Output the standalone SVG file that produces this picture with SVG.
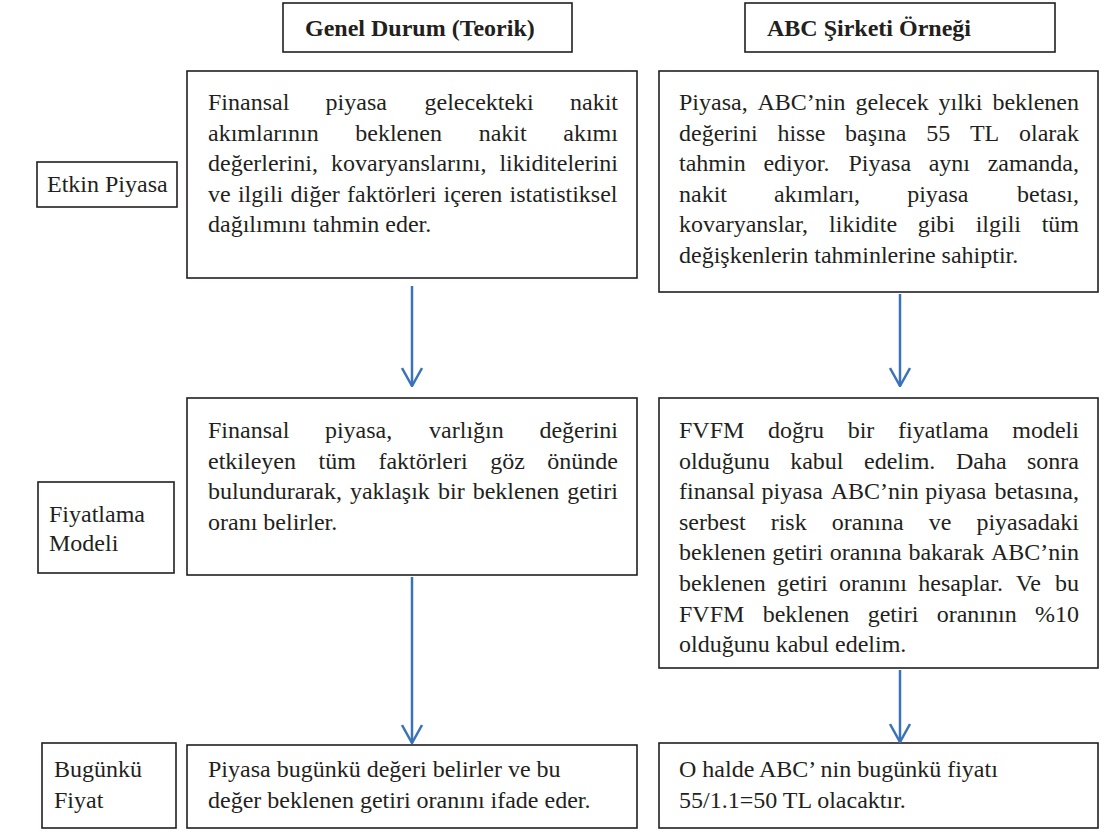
<svg xmlns="http://www.w3.org/2000/svg" width="1111" height="835" viewBox="0 0 1111 835">
  <style>
    .box { fill: #ffffff; stroke: #231f20; stroke-width: 1.6; }
    .t { font-family: "Liberation Serif", "Times New Roman", serif; font-size: 24px; fill: #231f20; }
    .h { font-weight: bold; }
    .arrow { fill: none; stroke: #3a73b8; stroke-width: 2.5; marker-end: url(#vhead); }
  </style>
  <defs>
    <marker id="vhead" viewBox="0 0 20 22" refX="19" refY="11" markerWidth="20" markerHeight="22" markerUnits="userSpaceOnUse" orient="auto">
      <path d="M1,1 L19,11 L1,21" fill="none" stroke="#3a73b8" stroke-width="2.5"/>
    </marker>
  </defs>

  <!-- column headers -->
  <g id="header-genel">
    <rect class="box" x="283" y="3" width="289" height="49"/>
    <text class="t h" x="305" y="36">Genel Durum (Teorik)</text>
  </g>
  <g id="header-abc">
    <rect class="box" x="745" y="3" width="310" height="49"/>
    <text class="t h" x="767" y="36">ABC Şirketi Örneği</text>
  </g>

  <!-- row labels -->
  <g id="label-etkin">
    <rect class="box" x="37" y="162" width="140" height="45"/>
    <text class="t" x="47" y="192">Etkin Piyasa</text>
  </g>
  <g id="label-fiyatlama">
    <rect class="box" x="38" y="482" width="136" height="91"/>
    <text class="t" x="49" y="522">Fiyatlama</text>
    <text class="t" x="49" y="551">Modeli</text>
  </g>
  <g id="label-bugunku">
    <rect class="box" x="42" y="743" width="134" height="85"/>
    <text class="t" x="54" y="777">Bugünkü</text>
    <text class="t" x="54" y="808">Fiyat</text>
  </g>

  <!-- row 1 -->
  <g id="genel-piyasa">
    <rect class="box" x="187" y="71" width="450" height="207"/>
    <text class="t" y="110"><tspan x="208">Finansal</tspan><tspan x="325.6">piyasa</tspan><tspan x="424.5">gelecekteki</tspan><tspan x="570">nakit</tspan></text>
    <text class="t" y="140.6"><tspan x="208">akımlarının</tspan><tspan x="355.3">beklenen</tspan><tspan x="478.7">nakit</tspan><tspan x="563.3">akımı</tspan></text>
    <text class="t" y="171.2"><tspan x="208">değerlerini,</tspan><tspan x="331.1">kovaryanslarını,</tspan><tspan x="499.4">likiditelerini</tspan></text>
    <text class="t" y="201.8"><tspan x="208">ve</tspan><tspan x="237.9">ilgili</tspan><tspan x="290.5">diğer</tspan><tspan x="347.1">faktörleri</tspan><tspan x="443.6">içeren</tspan><tspan x="509.5">istatistiksel</tspan></text>
    <text class="t" x="208" y="232.4">dağılımını tahmin eder.</text>
  </g>
  <g id="abc-piyasa">
    <rect class="box" x="659" y="71" width="439" height="221"/>
    <text class="t" y="110"><tspan x="679">Piyasa,</tspan><tspan x="757.5">ABC’nin</tspan><tspan x="855.4">gelecek</tspan><tspan x="938.5">yılki</tspan><tspan x="992.4">beklenen</tspan></text>
    <text class="t" y="140.6"><tspan x="679">değerini</tspan><tspan x="777.4">hisse</tspan><tspan x="845.1">başına</tspan><tspan x="926.2">55</tspan><tspan x="969.9">TL</tspan><tspan x="1019">olarak</tspan></text>
    <text class="t" y="171.2"><tspan x="679">tahmin</tspan><tspan x="763.4">ediyor.</tspan><tspan x="848.4">Piyasa</tspan><tspan x="928.7">aynı</tspan><tspan x="987.7">zamanda,</tspan></text>
    <text class="t" y="201.8"><tspan x="679">nakit</tspan><tspan x="774.1">akımları,</tspan><tspan x="907.2">piyasa</tspan><tspan x="1017">betası,</tspan></text>
    <text class="t" y="232.4"><tspan x="679">kovaryanslar,</tspan><tspan x="829.1">likidite</tspan><tspan x="917.7">gibi</tspan><tspan x="975.7">ilgili</tspan><tspan x="1041.7">tüm</tspan></text>
    <text class="t" x="679" y="263">değişkenlerin tahminlerine sahiptir.</text>
  </g>

  <!-- row 2 -->
  <g id="genel-model">
    <rect class="box" x="187" y="398" width="450" height="177"/>
    <text class="t" y="438"><tspan x="208">Finansal</tspan><tspan x="324.9">piyasa,</tspan><tspan x="429.1">varlığın</tspan><tspan x="539.4">değerini</tspan></text>
    <text class="t" y="468.6"><tspan x="208">etkileyen</tspan><tspan x="318.5">tüm</tspan><tspan x="378.4">faktörleri</tspan><tspan x="490.2">göz</tspan><tspan x="547.3">önünde</tspan></text>
    <text class="t" y="499.2"><tspan x="208">bulundurarak,</tspan><tspan x="349.9">yaklaşık</tspan><tspan x="438">bir</tspan><tspan x="472.7">beklenen</tspan><tspan x="567.3">getiri</tspan></text>
    <text class="t" x="208" y="529.8">oranı belirler.</text>
  </g>
  <g id="abc-model">
    <rect class="box" x="659" y="398" width="439" height="270"/>
    <text class="t" y="438"><tspan x="679">FVFM</tspan><tspan x="768">doğru</tspan><tspan x="847.7">bir</tspan><tspan x="898">fiyatlama</tspan><tspan x="1012.3">modeli</tspan></text>
    <text class="t" y="468.6"><tspan x="679">olduğunu</tspan><tspan x="790.2">kabul</tspan><tspan x="864">edelim.</tspan><tspan x="955.9">Daha</tspan><tspan x="1027">sonra</tspan></text>
    <text class="t" y="499.2"><tspan x="679">finansal</tspan><tspan x="761.5">piyasa</tspan><tspan x="830.7">ABC’nin</tspan><tspan x="925.2">piyasa</tspan><tspan x="994.4">betasına,</tspan></text>
    <text class="t" y="529.8"><tspan x="679">serbest</tspan><tspan x="770.7">risk</tspan><tspan x="831.7">oranına</tspan><tspan x="928.7">ve</tspan><tspan x="976.4">piyasadaki</tspan></text>
    <text class="t" y="560.4"><tspan x="679">beklenen</tspan><tspan x="772.3">getiri</tspan><tspan x="829.7">oranına</tspan><tspan x="908.4">bakarak</tspan><tspan x="991">ABC’nin</tspan></text>
    <text class="t" y="591"><tspan x="679">beklenen</tspan><tspan x="777">getiri</tspan><tspan x="839">oranını</tspan><tspan x="918.3">hesaplar.</tspan><tspan x="1015.7">Ve</tspan><tspan x="1055">bu</tspan></text>
    <text class="t" y="621.6"><tspan x="679">FVFM</tspan><tspan x="762.7">beklenen</tspan><tspan x="867.7">getiri</tspan><tspan x="936.7">oranının</tspan><tspan x="1035">%10</tspan></text>
    <text class="t" x="679" y="652.2">olduğunu kabul edelim.</text>
  </g>

  <!-- row 3 -->
  <g id="genel-fiyat">
    <rect class="box" x="187" y="745" width="450" height="83"/>
    <text class="t" x="208" y="777">Piyasa bugünkü değeri belirler ve bu</text>
    <text class="t" x="208" y="808">değer beklenen getiri oranını ifade eder.</text>
  </g>
  <g id="abc-fiyat">
    <rect class="box" x="659" y="743" width="439" height="85"/>
    <text class="t" x="679" y="777">O halde ABC’ nin bugünkü fiyatı</text>
    <text class="t" x="679" y="808">55/1.1=50 TL olacaktır.</text>
  </g>

  <!-- connectors -->
  <g id="connectors">
    <line class="arrow" x1="412" y1="286" x2="412" y2="386"/>
    <line class="arrow" x1="412" y1="577" x2="412" y2="743"/>
    <line class="arrow" x1="900" y1="294" x2="900" y2="386"/>
    <line class="arrow" x1="900" y1="670" x2="900" y2="742"/>
  </g>
</svg>
